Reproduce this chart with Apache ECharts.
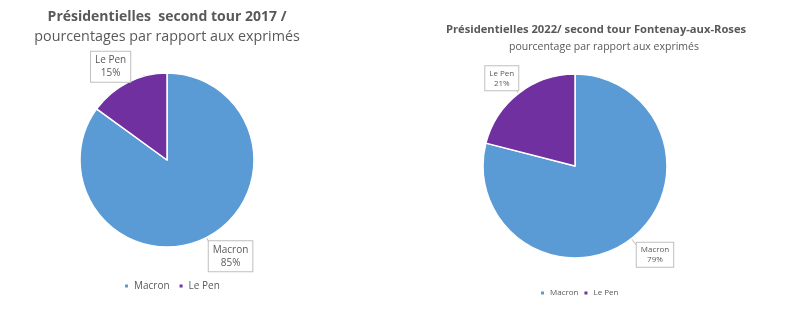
<!DOCTYPE html>
<html>
<head>
<meta charset="utf-8">
<script src="https://cdn.jsdelivr.net/npm/echarts@6/dist/echarts.min.js"></script>
<style>
  html, body { margin: 0; padding: 0; background: #fff; }
  #chart { width: 791px; height: 329px; }
</style>
</head>
<body>
<div id="chart"></div>
<script>
// Second-round presidential results, share of votes cast
const candidates = ['Macron', 'Le Pen'];
const share2017 = [85, 15];
const share2022 = [79, 21];
const colors = ['#5B9BD5', '#7030A0'];

const font = 'Open Sans, Liberation Sans, sans-serif';
const chart = echarts.init(document.getElementById('chart'), null, { renderer: 'canvas' });

// Pie with boxed "name / percent" call-outs; nudges fine-tune each call-out box
function pieSeries(values, center, radius, fontSize, lineH, labelLen, nudges) {
  return {
    type: 'pie',
    center: center,
    radius: radius,
    startAngle: 90,
    clockwise: true,
    animation: false,
    itemStyle: { borderColor: '#fff', borderWidth: 1.5 },
    emphasis: { disabled: true },
    label: {
      show: true,
      position: 'outside',
      formatter: p => '{t|' + p.name + '}\n{t|' + p.value + '%}',
      rich: {
        t: { fontFamily: font, fontSize: fontSize, lineHeight: lineH, color: '#595959', align: 'center' }
      },
      backgroundColor: '#fff',
      borderColor: '#bfbfbf',
      borderWidth: 1,
      padding: [2, 4, 2, 4]
    },
    labelLine: {
      show: true,
      length: labelLen,
      length2: 0,
      lineStyle: { color: '#bfbfbf', width: 1 }
    },
    labelLayout: p => ({ dx: nudges[p.dataIndex][0], dy: nudges[p.dataIndex][1] }),
    data: candidates.map((n, i) => ({ name: n, value: values[i], itemStyle: { color: colors[i] } }))
  };
}

chart.setOption({
  backgroundColor: '#fff',
  title: [
    {
      text: 'Présidentielles  second tour 2017 /',
      left: 162, top: 5, textAlign: 'center',
      textStyle: { fontFamily: font, fontSize: 14, fontWeight: 'bold', color: '#595959' }
    },
    {
      text: 'pourcentages par rapport aux exprimés',
      left: 162, top: 25, textAlign: 'center',
      textStyle: { fontFamily: font, fontSize: 14.3, fontWeight: 'normal', color: '#595959' }
    },
    {
      text: 'Présidentielles 2022/ second tour Fontenay-aux-Roses',
      left: 591, top: 19, textAlign: 'center',
      textStyle: { fontFamily: font, fontSize: 11.2, fontWeight: 'bold', color: '#595959' }
    },
    {
      text: 'pourcentage par rapport aux exprimés',
      left: 599, top: 37, textAlign: 'center',
      textStyle: { fontFamily: font, fontSize: 10.5, fontWeight: 'normal', color: '#595959' }
    }
  ],
  legend: [
    {
      data: candidates, left: 118, top: 276,
      icon: 'rect', itemWidth: 5, itemHeight: 5, itemGap: 8,
      textStyle: { fontFamily: font, fontSize: 10, color: '#595959' },
      selectedMode: false
    },
    {
      data: candidates, left: 534, top: 284,
      icon: 'rect', itemWidth: 5, itemHeight: 5, itemGap: 4,
      textStyle: { fontFamily: font, fontSize: 8, color: '#595959' },
      selectedMode: false
    }
  ],
  series: [
    pieSeries(share2017, [167, 160], 87, 10, 13, 16, [[-10, 4.5], [15, -1.5]]),
    pieSeries(share2022, [575, 166], 92, 8, 10, 12, [[-7, 6.5], [12, -5.5]])
  ]
});
</script>
</body>
</html>
